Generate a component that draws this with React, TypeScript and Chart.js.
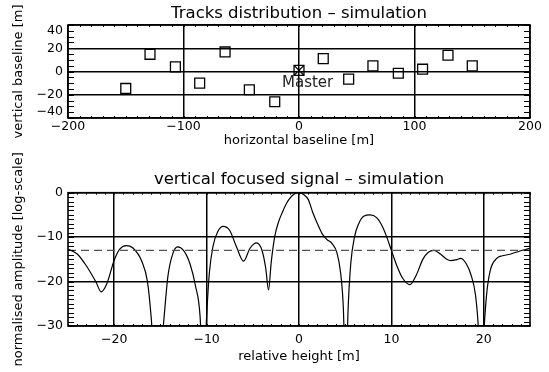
import React, { useEffect, useRef } from "react";
import { Chart, registerables } from "chart.js";

Chart.register(...registerables);

const FONT = "'DejaVu Sans', 'Liberation Sans', sans-serif";

// ---- Top chart: track distribution ----
const trackX = [-150, -129, -107, -86, -64, -43, -21, 21, 43, 64, 86, 107, 129, 150];
const trackY = [-14.6, 14.8, 4.0, -10, 16.8, -15.7, -26, 11.1, -6.6, 4.8, -1.5, 2.0, 14.0, 4.8];
const masterX = [0];
const masterY = [1];
const baselineXRange = [-200, 200];
const baselineYRange = [-40, 40];

// ---- Bottom chart: vertical focused signal ----
const heightX = [
  -25, -24, -23, -22, -21.4, -20.8, -20, -19.4, -18.7, -18, -17, -16.4, -16, -15.6, -15.3, -14.9, -14.6,
  -14.2, -13.7, -13.15, -12.5, -11.8, -11.2, -10.7, -10.35, -10.0, -9.7, -9.3, -8.8, -8.2, -7.5, -6.8,
  -6.0, -5.3, -4.6, -4.0, -3.6, -3.3, -3.0, -2.6, -2.2, -1.8, -1.4, -1.0, -0.5, 0, 0.5, 1.0, 1.5, 2.0, 2.5,
  3.0, 3.6, 4.1, 4.5, 4.8, 5.07, 5.3, 5.6, 6.0, 6.5, 7.0, 7.7, 8.4, 9.0, 9.5, 10.0, 10.6, 11.2, 12.0,
  12.7, 13.4, 14.0, 14.6, 15.3, 16.0, 16.4, 17.0, 17.5, 18.1, 18.6, 19.1, 19.4, 19.75, 20.0, 20.3,
  20.7, 21.4, 22.0, 22.7, 23.5, 24.3, 25,
];
const amplitudeDb = [
  -12.7, -13.8, -16.5, -20, -22.3, -20.5, -15.2, -12.7, -11.9, -12.4, -15.5, -20, -28, -40, -45, -35, -28,
  -19, -14, -12.2, -13, -16, -21, -28, -45, -28, -18, -12, -8.8, -7.6, -8.5, -12,
  -15.4, -12.5, -11.3, -13, -17, -21.9, -15.5, -9.6, -6.5, -4.4, -2.6, -1.3, -0.3, 0, -0.4, -1.5, -4.5, -7.0, -9.2,
  -10.5, -11.5, -13.5, -18, -26, -45, -27, -16, -10.0, -6.8, -5.3, -5.0, -5.6, -7.5, -10, -13, -16.5, -19.2, -20.7,
  -18.5, -15, -13.4, -13, -13.8, -15, -15.3, -15.1, -14.8, -16, -18.4, -23, -30, -45, -32, -23,
  -17.5, -14.8, -14.2, -13.9, -13.4, -12.9, -12.5,
];
const sidelobeLevel = -13;
const heightRange = [-25, 25];
const amplitudeRange = [-30, 0];

const fmt = (v: number) => (v < 0 ? "\u2212" + Math.abs(v) : String(v));

const decor = {
  id: "decor",
  afterDraw(chart: any, _args: any, opts: any) {
    const { ctx, chartArea: a, scales } = chart;
    const xs = scales.x;
    const ys = scales.y;
    ctx.save();
    // minor ticks
    ctx.strokeStyle = "#000";
    ctx.lineWidth = 1;
    ctx.beginPath();
    const nx = Math.round((xs.max - xs.min) / opts.xStep);
    for (let i = 0; i <= nx; i++) {
      const p = Math.round(xs.getPixelForValue(xs.min + i * opts.xStep)) + 0.5;
      ctx.moveTo(p, a.top);
      ctx.lineTo(p, a.top + opts.xLen);
      ctx.moveTo(p, a.bottom);
      ctx.lineTo(p, a.bottom - opts.xLen);
    }
    const ny = Math.round((ys.max - ys.min) / opts.yStep);
    for (let i = 0; i <= ny; i++) {
      const p = Math.round(ys.getPixelForValue(ys.min + i * opts.yStep)) + 0.5;
      ctx.moveTo(a.left, p);
      ctx.lineTo(a.left + opts.yLen, p);
      ctx.moveTo(a.right, p);
      ctx.lineTo(a.right - opts.yLen, p);
    }
    ctx.stroke();
    // frame
    ctx.lineWidth = 1.6;
    ctx.strokeRect(a.left, a.top, a.right - a.left, a.bottom - a.top);
    // y tick labels
    ctx.fillStyle = "#000";
    ctx.font = `12.5px ${FONT}`;
    ctx.textAlign = "right";
    ctx.textBaseline = "middle";
    for (const t of ys.ticks) {
      let y = ys.getPixelForValue(t.value);
      y = Math.min(Math.max(y, a.top + opts.inset), a.bottom - opts.inset);
      ctx.fillText(fmt(t.value), a.left - 5, y);
    }
    // title
    ctx.font = `16.5px ${FONT}`;
    ctx.textAlign = "center";
    ctx.fillText(opts.title, (a.left + a.right) / 2, opts.titleY);
    // label
    if (opts.label) {
      ctx.font = `15px ${FONT}`;
      ctx.textAlign = "left";
      ctx.fillStyle = "#222";
      const px = xs.getPixelForValue(opts.label.x) - 17;
      const py = ys.getPixelForValue(opts.label.y) + 13;
      ctx.fillText(opts.label.text, px, py);
    }
    ctx.restore();
  },
};

function stepTicks(s: any, step: number) {
  const first = Math.ceil(s.min / step - 1e-9);
  const last = Math.floor(s.max / step + 1e-9);
  const out: any[] = [];
  for (let k = first; k <= last; k++) out.push({ value: k * step });
  s.ticks = out;
}

function axisX(min: number, max: number, step: number, title: string, tickPad: number, titlePad: number, h: number) {
  return {
    type: "linear",
    position: "bottom",
    min,
    max,
    grid: { color: "#000", lineWidth: 1.5, drawTicks: false },
    border: { display: false },
    afterBuildTicks: (s: any) => stepTicks(s, step),
    ticks: {
      autoSkip: false,
      maxRotation: 0,
      padding: tickPad,
      color: "#000",
      font: { family: FONT, size: 12.5 },
      callback: (v: number) => fmt(v),
    },
    title: {
      display: true,
      text: title,
      color: "#000",
      font: { family: FONT, size: 13 },
      padding: { top: 0, bottom: titlePad },
    },
    afterFit: (s: any) => {
      s.height = h;
    },
  };
}

function axisY(min: number, max: number, step: number, title: string) {
  return {
    type: "linear",
    position: "left",
    min,
    max,
    grid: { color: "#000", lineWidth: 1.5, drawTicks: false },
    border: { display: false },
    afterBuildTicks: (s: any) => stepTicks(s, step),
    ticks: { display: false },
    title: {
      display: true,
      text: title,
      color: "#000",
      font: { family: FONT, size: 13 },
      padding: { top: 11, bottom: 0 },
    },
    afterFit: (s: any) => {
      s.width = 68;
    },
  };
}

export default function App() {
  const topRef = useRef<HTMLCanvasElement>(null);
  const botRef = useRef<HTMLCanvasElement>(null);

  useEffect(() => {
    const tracks = trackX.map((x, i) => ({ x, y: trackY[i] }));
    const master = masterX.map((x, i) => ({ x, y: masterY[i] }));
    const top = new Chart(topRef.current!, {
      type: "scatter",
      data: {
        datasets: [
          { data: tracks, pointStyle: "rect", pointRadius: 7, borderColor: "#000", backgroundColor: "rgba(0,0,0,0)", pointBorderWidth: 1.3 },
          { data: master, pointStyle: "rect", pointRadius: 7, borderColor: "#000", backgroundColor: "rgba(0,0,0,0)", pointBorderWidth: 1.3 },
          { data: master, pointStyle: "crossRot", pointRadius: 7, borderColor: "#000", pointBorderWidth: 1.3 },
        ],
      },
      options: {
        responsive: false,
        animation: false,
        events: [],
        layout: { padding: { left: 0, right: 19, top: 25, bottom: 0 } },
        plugins: {
          legend: { display: false },
          tooltip: { enabled: false },
          decor: {
            xStep: 10, xLen: 2, yStep: 5, yLen: 6, inset: 6,
            title: "Tracks distribution \u2013 simulation", titleY: 13.5,
            label: { text: "Master", x: masterX[0], y: masterY[0] },
          },
        } as any,
        scales: {
          x: axisX(baselineXRange[0], baselineXRange[1], 100, "horizontal baseline [m]", 1.2, 11.2, 42),
          y: axisY(baselineYRange[0], baselineYRange[1], 20, "vertical baseline [m]"),
        } as any,
      },
      plugins: [decor],
    });

    const curve = heightX.map((x, i) => ({ x, y: amplitudeDb[i] }));
    const level = heightRange.map((x) => ({ x, y: sidelobeLevel }));
    const bot = new Chart(botRef.current!, {
      type: "scatter",
      data: {
        datasets: [
          { data: level, showLine: true, pointRadius: 0, borderColor: "#555", borderWidth: 1.3, borderDash: [8, 5] },
          { data: curve, showLine: true, pointRadius: 0, borderColor: "#000", borderWidth: 1.2, cubicInterpolationMode: "monotone" },
        ],
      },
      options: {
        responsive: false,
        animation: false,
        events: [],
        layout: { padding: { left: 0, right: 19, top: 62.7, bottom: 0 } },
        plugins: {
          legend: { display: false },
          tooltip: { enabled: false },
          decor: {
            xStep: 1, xLen: 2, yStep: 1, yLen: 6, inset: 0,
            title: "vertical focused signal \u2013 simulation", titleY: 50,
          },
        } as any,
        scales: {
          x: axisX(heightRange[0], heightRange[1], 10, "relative height [m]", 6, 7.2, 46),
          y: axisY(amplitudeRange[0], amplitudeRange[1], 10, "normalised amplitude [log-scale]"),
        } as any,
      },
      plugins: [decor],
    });

    return () => {
      top.destroy();
      bot.destroy();
    };
  }, []);

  return (
    <div style={{ position: "absolute", left: 0, top: 0, width: 549, height: 372, background: "#fff" }}>
      <canvas ref={topRef} width={549} height={160} style={{ position: "absolute", left: 0, top: 0 }} />
      <canvas ref={botRef} width={549} height={242} style={{ position: "absolute", left: 0, top: 130 }} />
    </div>
  );
}
